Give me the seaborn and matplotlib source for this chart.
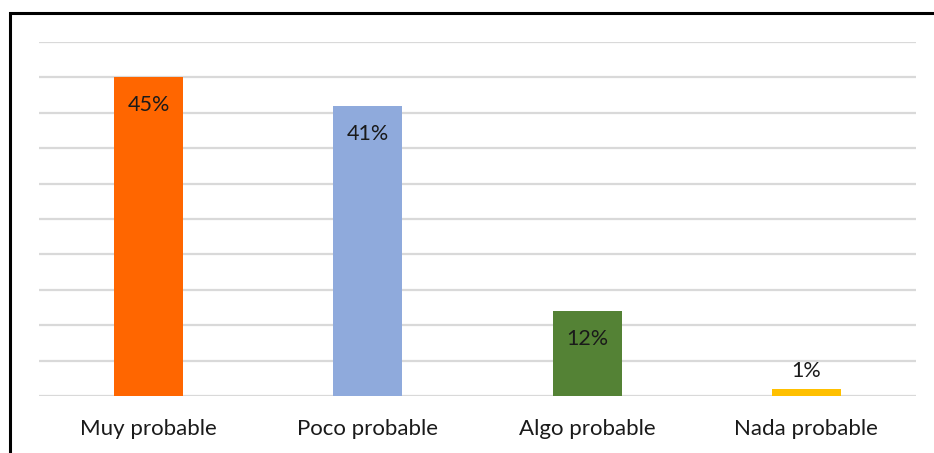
import matplotlib
matplotlib.use("Agg")
import matplotlib.pyplot as plt
from matplotlib.patches import Rectangle
import seaborn as sns
import pandas as pd

categories = ["Muy probable", "Poco probable", "Algo probable", "Nada probable"]
values = [45, 41, 12, 1]
colors = ["#FF6600", "#8FAADC", "#548235", "#FFC000"]

sns.set_style("white")
plt.rcParams["font.family"] = ["Lato", "DejaVu Sans"]

W, H = 934, 453
fig = plt.figure(figsize=(W / 100, H / 100), dpi=100)
ax = fig.add_axes([39 / W, 1 - 396 / H, (916 - 39) / W, (396 - 42) / H])

df = pd.DataFrame({"cat": categories, "val": values})
sns.barplot(data=df, x="cat", y="val", hue="cat", palette=colors,
            width=0.315, legend=False, ax=ax, saturation=1, zorder=3,
            linewidth=0)

ax.set_ylim(0, 50)
ax.set_yticks(range(0, 51, 5))
ax.set_xlim(-0.5, 3.5)
ax.yaxis.grid(True, color="#D9D9D9", linewidth=1.6, zorder=0)
ax.set_axisbelow(True)
ax.tick_params(axis="y", left=False, labelleft=False)
ax.tick_params(axis="x", bottom=False, labelsize=16, pad=13, colors="#1a1a1a")
ax.set_xlabel("")
ax.set_ylabel("")
for s in ax.spines.values():
    s.set_visible(False)

for i, v in enumerate(values):
    if v >= 5:
        ax.annotate(f"{v}%", (i, v), xytext=(0, -28), textcoords="offset pixels",
                    ha="center", va="center", fontsize=15.5, color="#1a1a1a")
    else:
        ax.annotate(f"{v}%", (i, v), xytext=(0, 18), textcoords="offset pixels",
                    ha="center", va="center", fontsize=15.5, color="#1a1a1a")

# outer chart border
fig.patches.append(Rectangle((10 / W, -0.1), 1.2, 1.1 - 13 / H,
                             transform=fig.transFigure, fill=False,
                             edgecolor="black", linewidth=2.2))

fig.savefig("out.png", dpi=100)
